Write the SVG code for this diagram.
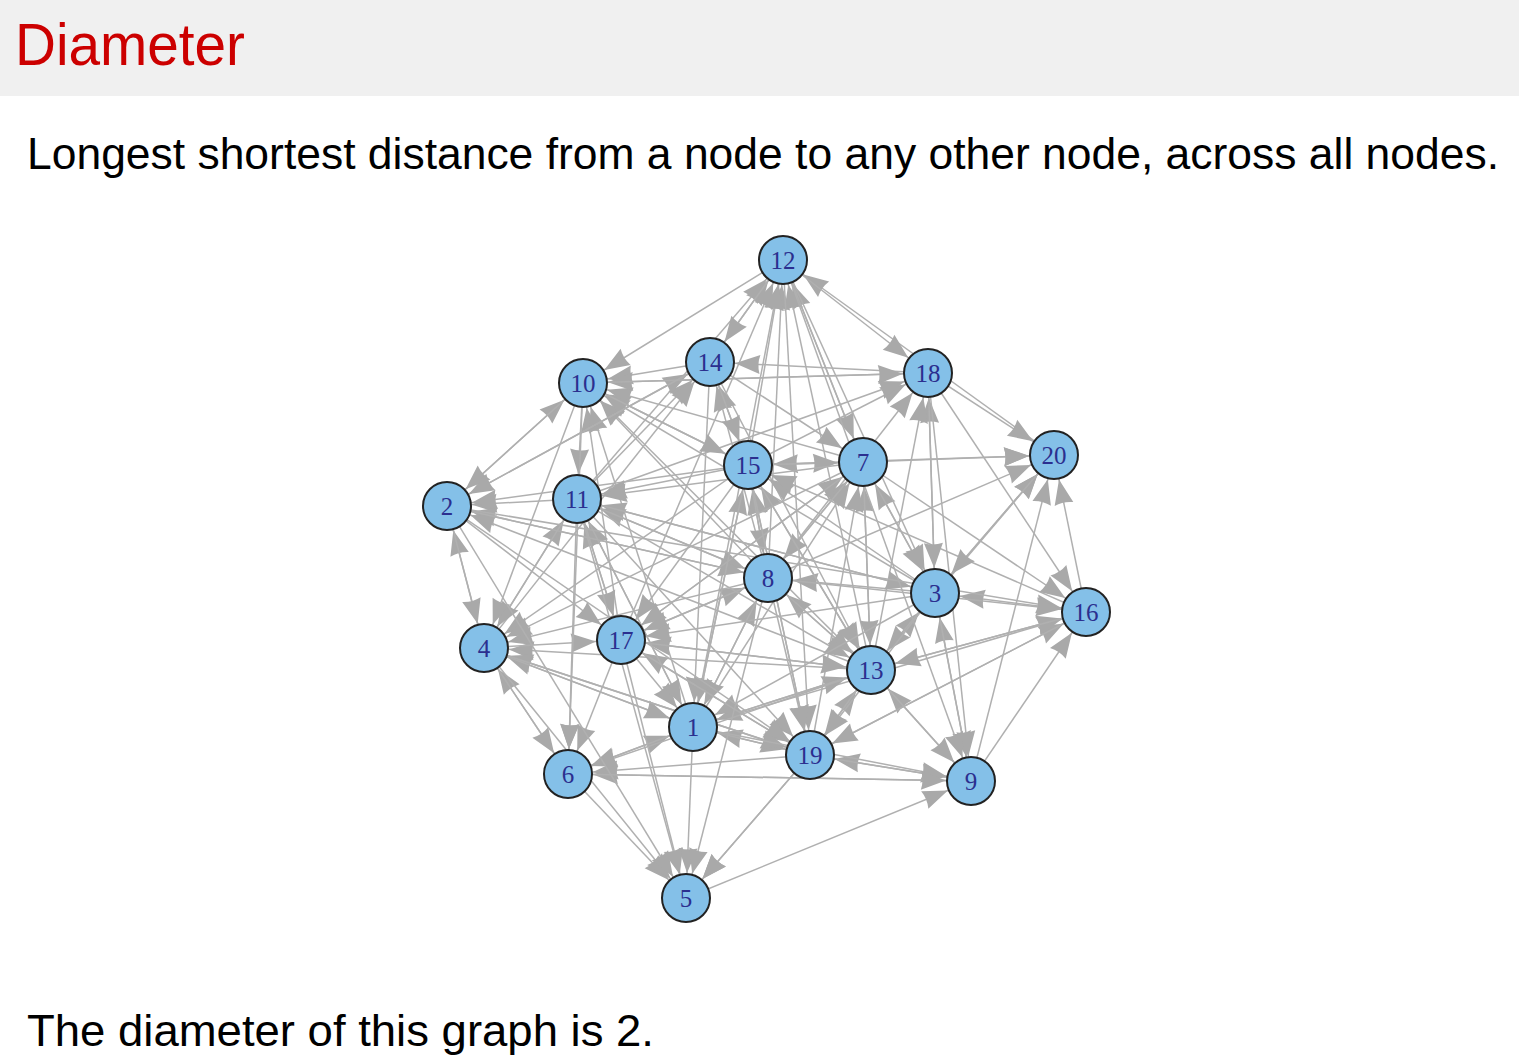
<svg xmlns="http://www.w3.org/2000/svg" width="1519" height="1057" viewBox="0 0 1519 1057">
<style>
.e{fill:none;stroke:#b0b0b0;stroke-width:1.5;marker-end:url(#ah)}
.n circle{fill:#84c0e8;stroke:#222;stroke-width:2}
.n text{font-family:"Liberation Serif",serif;font-size:25px;fill:#2b2f8f;text-anchor:middle}
.t{font-family:"Liberation Sans",Arial,sans-serif}
</style>
<defs>
<marker id="ah" markerUnits="userSpaceOnUse" orient="auto" refX="0" refY="0" markerWidth="1" markerHeight="1" overflow="visible">
<path d="M-50,-9.5 L-25,0 L-50,9.5 Q-47,0 -50,-9.5 Z" fill="#a9a9a9"/>
</marker>
</defs>
<rect x="0" y="0" width="1519" height="96" fill="#f0f0f0"/>
<text class="t" x="15" y="65" font-size="60" fill="#cc0000" textLength="230" lengthAdjust="spacingAndGlyphs">Diameter</text>
<text class="t" x="27" y="169" font-size="45" fill="#000" textLength="1472" lengthAdjust="spacingAndGlyphs">Longest shortest distance from a node to any other node, across all nodes.</text>
<text class="t" x="27" y="1046" font-size="45" fill="#000" textLength="627" lengthAdjust="spacingAndGlyphs">The diameter of this graph is 2.</text>
<g id="edges">
<path class="e" d="M577 499L783 260"/><path class="e" d="M710 362L783 260"/><path class="e" d="M748 465L783 260"/><path class="e" d="M621 640L783 260"/><path class="e" d="M768 578L783 260"/><path class="e" d="M693 727L783 260"/><path class="e" d="M863 462L783 260"/><path class="e" d="M871 670L783 260"/><path class="e" d="M1054 455L783 260"/>
<path class="e" d="M783 260L583 383"/><path class="e" d="M783 260L710 362"/><path class="e" d="M783 260L810 755"/><path class="e" d="M710 362L871 670"/><path class="e" d="M710 362L693 727"/><path class="e" d="M810 755L686 898"/><path class="e" d="M686 898L971 781"/>
<path class="e" d="M710 362L583 383"/><path class="e" d="M748 465L583 383"/><path class="e" d="M863 462L583 383"/><path class="e" d="M928 373L583 383"/><path class="e" d="M768 578L583 383"/><path class="e" d="M621 640L583 383"/><path class="e" d="M871 670L583 383"/><path class="e" d="M935 593L583 383"/><path class="e" d="M447 506L583 383"/><path class="e" d="M693 727L583 383"/>
<path class="e" d="M577 499L710 362"/><path class="e" d="M447 506L710 362"/><path class="e" d="M748 465L710 362"/><path class="e" d="M768 578L710 362"/><path class="e" d="M928 373L710 362"/><path class="e" d="M484 648L710 362"/>
<path class="e" d="M783 260L928 373"/><path class="e" d="M583 383L928 373"/><path class="e" d="M748 465L928 373"/><path class="e" d="M577 499L928 373"/><path class="e" d="M935 593L928 373"/><path class="e" d="M871 670L928 373"/><path class="e" d="M768 578L928 373"/>
<path class="e" d="M863 462L1054 455"/><path class="e" d="M928 373L1054 455"/><path class="e" d="M935 593L1054 455"/><path class="e" d="M1086 612L1054 455"/><path class="e" d="M871 670L1054 455"/><path class="e" d="M768 578L1054 455"/><path class="e" d="M748 465L1054 455"/><path class="e" d="M971 781L1054 455"/>
<path class="e" d="M863 462L748 465"/><path class="e" d="M710 362L748 465"/><path class="e" d="M583 383L748 465"/><path class="e" d="M768 578L748 465"/><path class="e" d="M935 593L748 465"/><path class="e" d="M871 670L748 465"/><path class="e" d="M810 755L748 465"/><path class="e" d="M693 727L748 465"/><path class="e" d="M1086 612L748 465"/>
<path class="e" d="M748 465L863 462"/><path class="e" d="M710 362L863 462"/><path class="e" d="M783 260L863 462"/><path class="e" d="M768 578L863 462"/><path class="e" d="M935 593L863 462"/><path class="e" d="M871 670L863 462"/><path class="e" d="M810 755L863 462"/><path class="e" d="M693 727L863 462"/><path class="e" d="M621 640L863 462"/>
<path class="e" d="M577 499L447 506"/><path class="e" d="M583 383L447 506"/><path class="e" d="M748 465L447 506"/><path class="e" d="M710 362L447 506"/><path class="e" d="M484 648L447 506"/><path class="e" d="M768 578L447 506"/><path class="e" d="M871 670L447 506"/>
<path class="e" d="M583 383L577 499"/><path class="e" d="M748 465L577 499"/><path class="e" d="M863 462L577 499"/><path class="e" d="M768 578L577 499"/><path class="e" d="M484 648L577 499"/><path class="e" d="M621 640L577 499"/><path class="e" d="M693 727L577 499"/><path class="e" d="M935 593L577 499"/>
<path class="e" d="M748 465L768 578"/><path class="e" d="M863 462L768 578"/><path class="e" d="M577 499L768 578"/><path class="e" d="M447 506L768 578"/><path class="e" d="M621 640L768 578"/><path class="e" d="M871 670L768 578"/><path class="e" d="M935 593L768 578"/><path class="e" d="M693 727L768 578"/>
<path class="e" d="M1054 455L935 593"/><path class="e" d="M1086 612L935 593"/><path class="e" d="M971 781L935 593"/><path class="e" d="M863 462L935 593"/><path class="e" d="M783 260L935 593"/><path class="e" d="M928 373L935 593"/><path class="e" d="M871 670L935 593"/><path class="e" d="M577 499L935 593"/>
<path class="e" d="M863 462L1086 612"/><path class="e" d="M928 373L1086 612"/><path class="e" d="M447 506L1086 612"/><path class="e" d="M768 578L1086 612"/><path class="e" d="M871 670L1086 612"/><path class="e" d="M971 781L1086 612"/><path class="e" d="M810 755L1086 612"/><path class="e" d="M693 727L1086 612"/>
<path class="e" d="M447 506L484 648"/><path class="e" d="M577 499L484 648"/><path class="e" d="M583 383L484 648"/><path class="e" d="M748 465L484 648"/><path class="e" d="M768 578L484 648"/><path class="e" d="M871 670L484 648"/><path class="e" d="M693 727L484 648"/><path class="e" d="M810 755L484 648"/><path class="e" d="M568 774L484 648"/><path class="e" d="M863 462L484 648"/>
<path class="e" d="M484 648L621 640"/><path class="e" d="M577 499L621 640"/><path class="e" d="M447 506L621 640"/><path class="e" d="M748 465L621 640"/><path class="e" d="M768 578L621 640"/><path class="e" d="M871 670L621 640"/><path class="e" d="M935 593L621 640"/><path class="e" d="M810 755L621 640"/><path class="e" d="M863 462L621 640"/>
<path class="e" d="M768 578L871 670"/><path class="e" d="M748 465L871 670"/><path class="e" d="M863 462L871 670"/><path class="e" d="M935 593L871 670"/><path class="e" d="M577 499L871 670"/><path class="e" d="M693 727L871 670"/><path class="e" d="M621 640L871 670"/><path class="e" d="M810 755L871 670"/><path class="e" d="M971 781L871 670"/><path class="e" d="M1086 612L871 670"/>
<path class="e" d="M621 640L693 727"/><path class="e" d="M768 578L693 727"/><path class="e" d="M748 465L693 727"/><path class="e" d="M577 499L693 727"/><path class="e" d="M484 648L693 727"/><path class="e" d="M871 670L693 727"/><path class="e" d="M810 755L693 727"/><path class="e" d="M568 774L693 727"/><path class="e" d="M935 593L693 727"/>
<path class="e" d="M693 727L810 755"/><path class="e" d="M768 578L810 755"/><path class="e" d="M871 670L810 755"/><path class="e" d="M621 640L810 755"/><path class="e" d="M484 648L810 755"/><path class="e" d="M577 499L810 755"/><path class="e" d="M447 506L810 755"/><path class="e" d="M748 465L810 755"/><path class="e" d="M935 593L810 755"/><path class="e" d="M971 781L810 755"/><path class="e" d="M1086 612L810 755"/>
<path class="e" d="M484 648L568 774"/><path class="e" d="M621 640L568 774"/><path class="e" d="M693 727L568 774"/><path class="e" d="M810 755L568 774"/><path class="e" d="M971 781L568 774"/><path class="e" d="M871 670L568 774"/><path class="e" d="M577 499L568 774"/><path class="e" d="M583 383L568 774"/>
<path class="e" d="M871 670L971 781"/><path class="e" d="M935 593L971 781"/><path class="e" d="M810 755L971 781"/><path class="e" d="M693 727L971 781"/><path class="e" d="M928 373L971 781"/><path class="e" d="M783 260L971 781"/><path class="e" d="M568 774L971 781"/>
<path class="e" d="M568 774L686 898"/><path class="e" d="M484 648L686 898"/><path class="e" d="M621 640L686 898"/><path class="e" d="M693 727L686 898"/><path class="e" d="M810 755L686 898"/><path class="e" d="M577 499L686 898"/><path class="e" d="M768 578L686 898"/><path class="e" d="M447 506L686 898"/>
</g>
<g id="n1" class="n"><circle cx="693" cy="727" r="24"/><text x="693" y="736">1</text></g>
<g id="n2" class="n"><circle cx="447" cy="506" r="24"/><text x="447" y="515">2</text></g>
<g id="n3" class="n"><circle cx="935" cy="593" r="24"/><text x="935" y="602">3</text></g>
<g id="n4" class="n"><circle cx="484" cy="648" r="24"/><text x="484" y="657">4</text></g>
<g id="n5" class="n"><circle cx="686" cy="898" r="24"/><text x="686" y="907">5</text></g>
<g id="n6" class="n"><circle cx="568" cy="774" r="24"/><text x="568" y="783">6</text></g>
<g id="n7" class="n"><circle cx="863" cy="462" r="24"/><text x="863" y="471">7</text></g>
<g id="n8" class="n"><circle cx="768" cy="578" r="24"/><text x="768" y="587">8</text></g>
<g id="n9" class="n"><circle cx="971" cy="781" r="24"/><text x="971" y="790">9</text></g>
<g id="n10" class="n"><circle cx="583" cy="383" r="24"/><text x="583" y="392">10</text></g>
<g id="n11" class="n"><circle cx="577" cy="499" r="24"/><text x="577" y="508">11</text></g>
<g id="n12" class="n"><circle cx="783" cy="260" r="24"/><text x="783" y="269">12</text></g>
<g id="n13" class="n"><circle cx="871" cy="670" r="24"/><text x="871" y="679">13</text></g>
<g id="n14" class="n"><circle cx="710" cy="362" r="24"/><text x="710" y="371">14</text></g>
<g id="n15" class="n"><circle cx="748" cy="465" r="24"/><text x="748" y="474">15</text></g>
<g id="n16" class="n"><circle cx="1086" cy="612" r="24"/><text x="1086" y="621">16</text></g>
<g id="n17" class="n"><circle cx="621" cy="640" r="24"/><text x="621" y="649">17</text></g>
<g id="n18" class="n"><circle cx="928" cy="373" r="24"/><text x="928" y="382">18</text></g>
<g id="n19" class="n"><circle cx="810" cy="755" r="24"/><text x="810" y="764">19</text></g>
<g id="n20" class="n"><circle cx="1054" cy="455" r="24"/><text x="1054" y="464">20</text></g>
</svg>
